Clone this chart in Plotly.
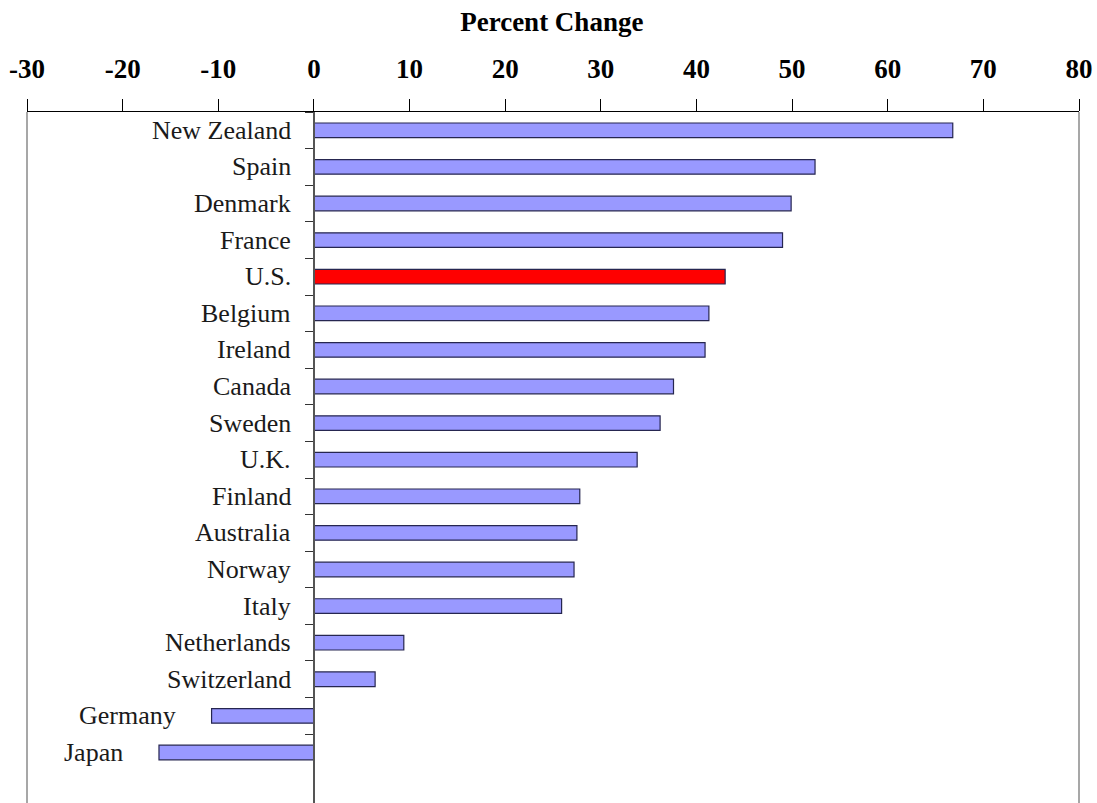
import plotly.graph_objects as go

countries = ["New Zealand", "Spain", "Denmark", "France", "U.S.", "Belgium", "Ireland",
             "Canada", "Sweden", "U.K.", "Finland", "Australia", "Norway", "Italy",
             "Netherlands", "Switzerland", "Germany", "Japan"]
values = [66.8, 52.4, 49.9, 49.0, 43.0, 41.3, 40.9, 37.6, 36.2, 33.8, 27.8, 27.5,
          27.2, 25.9, 9.4, 6.4, -10.7, -16.2]
highlight = "U.S."
x_ticks = [-30, -20, -10, 0, 10, 20, 30, 40, 50, 60, 70, 80]
x_min, x_max = -30, 80

bar_color = "#9999FF"
hi_color = "#FF0000"
colors = [hi_color if c == highlight else bar_color for c in countries]

fig = go.Figure(go.Bar(
    x=values, y=countries, orientation="h", width=0.4,
    marker=dict(color=colors, line=dict(color="#262650", width=1.2)),
    hoverinfo="x+y",
))

annotations = []
for c, v in zip(countries, values):
    annotations.append(dict(
        x=min(0, v), y=c, xref="x", yref="y", text=c, showarrow=False,
        xanchor="right", yanchor="middle", xshift=-21 if v >= 0 else -34,
        font=dict(family="Liberation Serif", size=26, color="#1a1a1a"),
    ))

fig.update_layout(
    width=1097, height=803,
    margin=dict(l=27, r=18, t=112, b=0),
    paper_bgcolor="white", plot_bgcolor="white",
    showlegend=False,
    title=dict(text="<b>Percent Change</b>", x=0.503, xanchor="center",
               y=1 - 22 / 803, yref="container", yanchor="middle",
               font=dict(family="Liberation Serif", size=27, color="black")),
    annotations=annotations,
    shapes=[
        dict(type="line", xref="paper", yref="paper", x0=0, x1=0, y0=0, y1=1,
             line=dict(color="#8a8a8a", width=1.5)),
        dict(type="line", xref="paper", yref="paper", x0=1, x1=1, y0=0, y1=1,
             line=dict(color="#8a8a8a", width=1.5)),
    ],
)

fig.update_xaxes(
    side="top", range=[x_min, x_max], tickvals=x_ticks,
    ticktext=[str(t) for t in x_ticks],
    showgrid=False, zeroline=False,
    showline=True, linecolor="black", linewidth=1.2,
    ticks="outside", ticklen=12, tickcolor="black", tickwidth=1.2,
    ticklabelstandoff=10,
    tickfont=dict(family="Liberation Serif", size=27, color="black", weight="bold"),
)

fig.update_yaxes(
    type="category", categoryorder="array", categoryarray=countries,
    range=[18.38, -0.5], anchor="free",
    position=(0 - x_min) / (x_max - x_min),
    showticklabels=False, showgrid=False, zeroline=False,
    showline=True, linecolor="#555555", linewidth=1.5,
    ticks="outside", tickson="boundaries", ticklen=8, tickcolor="#333333", tickwidth=1.2,
)

fig.write_html("out.html",
               config={"displayModeBar": False},
               post_script="document.body.style.margin='0';document.body.style.overflow='hidden';")
